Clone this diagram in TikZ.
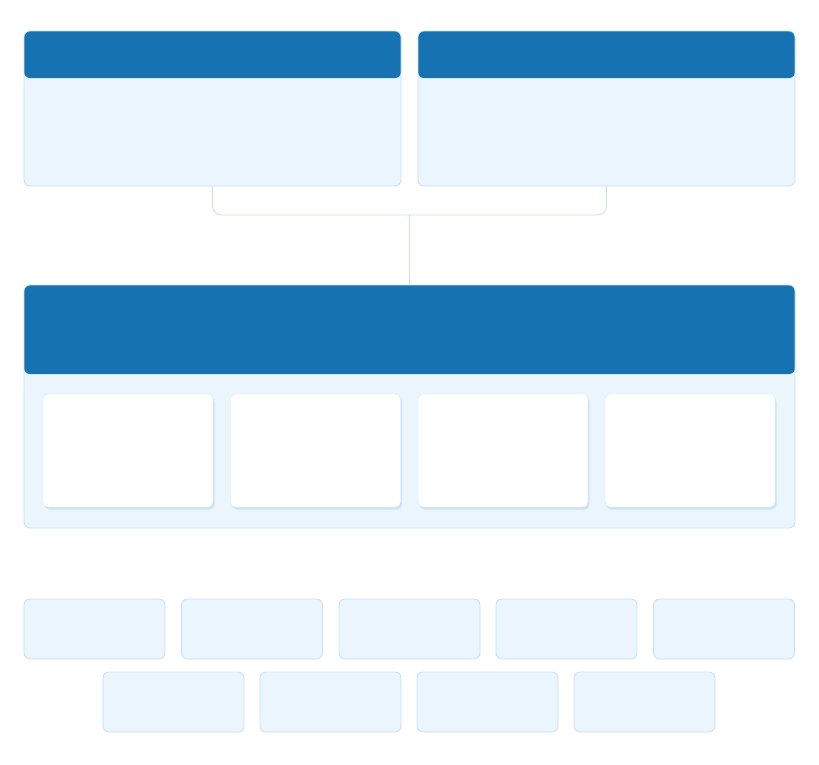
\documentclass[tikz,border=0pt]{standalone}
\usetikzlibrary{shadows}
\definecolor{hdr}{HTML}{1672B0}
\definecolor{pale}{HTML}{EBF5FE}
\definecolor{rim}{HTML}{C5DFF2}
\definecolor{wire}{HTML}{C8E6C9}
\tikzset{panel/.style={draw=rim,fill=pale,rounded corners=6pt,line width=.8pt},
  hdrtop/.style={path picture={\fill[hdr] (path picture bounding box.north west)
      rectangle ([yshift=-#1]path picture bounding box.north east);}},
  card/.style={draw=rim!60,fill=white,rounded corners=5pt,minimum width=170pt,minimum height=113pt,
      drop shadow={fill=rim,opacity=.8,shadow xshift=1.5pt,shadow yshift=-2.5pt}},
  tile/.style={panel,minimum width=141pt,minimum height=60pt},
  link/.style={draw=wire,line width=.9pt}}
\begin{document}
\begin{tikzpicture}[x=1pt,y=-1pt]
  \useasboundingbox (0,0) rectangle (819,764);
  \node[panel,hdrtop=47pt,minimum width=377pt,minimum height=155pt] (l) at (212.5,108.5) {};
  \node[panel,hdrtop=47pt,minimum width=377pt,minimum height=155pt] (r) at (606.5,108.5) {};
  \node[panel,hdrtop=89pt,minimum width=771pt,minimum height=243pt] (m) at (409.5,406.5) {};
  \coordinate (j) at (409.5,215);
  \draw[link,rounded corners=9pt] (l.south) |- (j) -| (r.south);
  \draw[link] (j) -- (m.north);
  \foreach \x [count=\i] in {128,315.5,503,690}
    \node[card] (c\i) at (\x,450.5) {};
  \foreach \x [count=\i] in {94.5,252,409.5,566.5,724}
    \node[tile] (a\i) at (\x,629) {};
  \foreach \x [count=\i] in {173.5,330.5,487.5,644.5}
    \node[tile] (b\i) at (\x,702) {};
\end{tikzpicture}
\end{document}
